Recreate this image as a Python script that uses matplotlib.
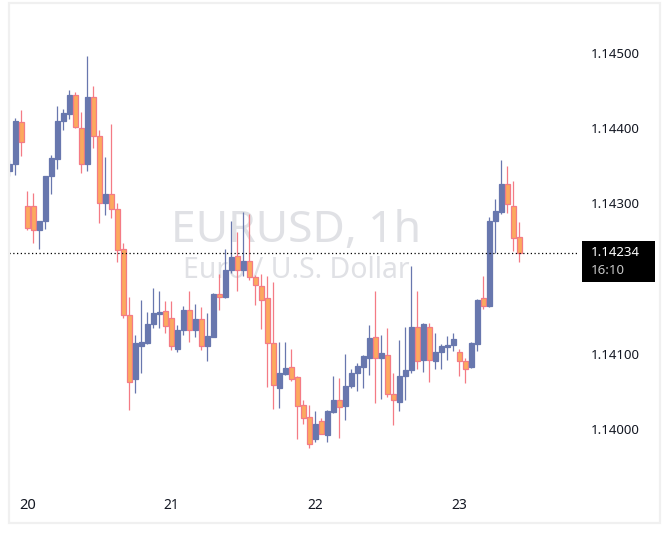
import matplotlib
matplotlib.use("Agg")
import matplotlib.pyplot as plt
import pandas as pd
from matplotlib.patches import Rectangle

plt.rcParams['font.family'] = ['Noto Sans', 'DejaVu Sans']

# hourly EURUSD candles, first one at 19th 21:00
start = "2021-06-19 21:00"
opens = [1.14343, 1.14352, 1.14408, 1.14297, 1.14297, 1.14265, 1.14276, 1.14336, 1.14359, 1.14409,
         1.14419, 1.14444, 1.14400, 1.14352, 1.14441, 1.14389, 1.14300, 1.14313, 1.14293, 1.14239,
         1.14151, 1.14066, 1.14111, 1.14114, 1.14139, 1.14153, 1.14157, 1.14148, 1.14107, 1.14131,
         1.14158, 1.14132, 1.14146, 1.14111, 1.14123, 1.14180, 1.14175, 1.14211, 1.14230, 1.14211,
         1.14223, 1.14202, 1.14190, 1.14174, 1.14114, 1.14055, 1.14073, 1.14082, 1.14069, 1.14032,
         1.14016, 1.13987, 1.14010, 1.13992, 1.14022, 1.14039, 1.14030, 1.14057, 1.14075, 1.14083,
         1.14095, 1.14122, 1.14095, 1.14099, 1.14047, 1.14036, 1.14071, 1.14078, 1.14136, 1.14092,
         1.14136, 1.14091, 1.14103, 1.14109, 1.14112, 1.14103, 1.14090, 1.14082, 1.14113, 1.14174,
         1.14163, 1.14276, 1.14289, 1.14326, 1.14297, 1.14255]
highs = [1.14358, 1.14414, 1.14424, 1.14316, 1.14314, 1.14277, 1.14337, 1.14364, 1.14430, 1.14426,
         1.14451, 1.14448, 1.14422, 1.14496, 1.14456, 1.14398, 1.14362, 1.14406, 1.14301, 1.14248,
         1.14176, 1.14125, 1.14172, 1.14155, 1.14188, 1.14183, 1.14170, 1.14170, 1.14138, 1.14163,
         1.14184, 1.14166, 1.14162, 1.14154, 1.14181, 1.14206, 1.14239, 1.14277, 1.14262, 1.14288,
         1.14286, 1.14205, 1.14206, 1.14203, 1.14196, 1.14116, 1.14116, 1.14106, 1.14070, 1.14039,
         1.14032, 1.14024, 1.14015, 1.14025, 1.14071, 1.14068, 1.14100, 1.14080, 1.14088, 1.14098,
         1.14138, 1.14184, 1.14125, 1.14134, 1.14075, 1.14118, 1.14136, 1.14217, 1.14184, 1.14141,
         1.14141, 1.14127, 1.14113, 1.14124, 1.14128, 1.14106, 1.14095, 1.14116, 1.14173, 1.14203,
         1.14282, 1.14306, 1.14358, 1.14350, 1.14330, 1.14275]
lows = [1.14336, 1.14338, 1.14363, 1.14265, 1.14248, 1.14239, 1.14266, 1.14313, 1.14346, 1.14397,
        1.14412, 1.14400, 1.14341, 1.14343, 1.14374, 1.14274, 1.14285, 1.14281, 1.14222, 1.14147,
        1.14025, 1.14048, 1.14075, 1.14113, 1.14134, 1.14134, 1.14128, 1.14105, 1.14103, 1.14125,
        1.14116, 1.14123, 1.14105, 1.14091, 1.14122, 1.14158, 1.14174, 1.14207, 1.14183, 1.14203,
        1.14198, 1.14165, 1.14133, 1.14056, 1.14027, 1.14028, 1.14072, 1.14064, 1.13987, 1.14006,
        1.13975, 1.13983, 1.13993, 1.13983, 1.14021, 1.13988, 1.14012, 1.14055, 1.14050, 1.14055,
        1.14072, 1.14035, 1.14040, 1.14043, 1.14005, 1.14024, 1.14039, 1.14075, 1.14080, 1.14076,
        1.14063, 1.14080, 1.14080, 1.14092, 1.14104, 1.14070, 1.14061, 1.14081, 1.14104, 1.14160,
        1.14162, 1.14234, 1.14286, 1.14287, 1.14237, 1.14222]
closes = [1.14353, 1.14410, 1.14381, 1.14267, 1.14264, 1.14276, 1.14336, 1.14361, 1.14410, 1.14420,
          1.14444, 1.14401, 1.14352, 1.14441, 1.14389, 1.14300, 1.14313, 1.14293, 1.14238, 1.14151,
          1.14063, 1.14114, 1.14116, 1.14140, 1.14154, 1.14156, 1.14137, 1.14110, 1.14132, 1.14158,
          1.14131, 1.14146, 1.14111, 1.14124, 1.14180, 1.14176, 1.14211, 1.14229, 1.14211, 1.14223,
          1.14202, 1.14191, 1.14172, 1.14114, 1.14058, 1.14074, 1.14081, 1.14067, 1.14030, 1.14015,
          1.13980, 1.14007, 1.13994, 1.14024, 1.14039, 1.14029, 1.14057, 1.14074, 1.14084, 1.14097,
          1.14121, 1.14094, 1.14101, 1.14047, 1.14039, 1.14070, 1.14078, 1.14136, 1.14091, 1.14139,
          1.14092, 1.14102, 1.14110, 1.14112, 1.14120, 1.14090, 1.14080, 1.14114, 1.14172, 1.14163,
          1.14277, 1.14290, 1.14326, 1.14299, 1.14254, 1.14234]
price_ticks = [1.140, 1.141, 1.143, 1.144, 1.145]
last_price = 1.14234
countdown = "16:10"
title = "EURUSD, 1h"
subtitle = "Euro / U.S. Dollar"

UP = "#6877ae"
DOWN_FILL = "#fca95e"
DOWN_EDGE = "#f47b85"

W, H = 670, 539
fig = plt.figure(figsize=(W / 100, H / 100), dpi=100)
fig.patch.set_facecolor("white")


def fx(px):
    return px / W


def fy(py):
    return (H - py) / H


# outer light frame
fig.patches.append(Rectangle((fx(9), fy(523)), fx(660) - fx(9), fy(3) - fy(523),
                             transform=fig.transFigure, fill=False,
                             edgecolor="#f0f0f0", linewidth=1.6))

ax = fig.add_axes([fx(9), fy(485), fx(578) - fx(9), fy(3) - fy(485)])
ax.set_facecolor("none")
for s in ax.spines.values():
    s.set_visible(False)

times = pd.date_range(start, periods=len(opens), freq="h")
idx = list(range(len(opens)))

# watermark
ax.text(fx(296), fy(241.5), title, transform=fig.transFigure, ha="center", va="baseline",
        fontsize=32, color="#e0e1e5", zorder=0)
ax.text(fx(296.5), fy(278.5), subtitle, transform=fig.transFigure, ha="center", va="baseline",
        fontsize=20.5, color="#e0e1e5", zorder=0)

for i in idx:
    o, h, l, c = opens[i], highs[i], lows[i], closes[i]
    up = c >= o
    wick = UP if up else DOWN_EDGE
    ax.vlines(i, l, h, color=wick, linewidth=0.9, zorder=2)
    ax.bar(i, abs(c - o), bottom=min(o, c), width=0.68,
           color=UP if up else DOWN_FILL, edgecolor=UP if up else DOWN_EDGE,
           linewidth=0.9, zorder=3)

ax.axhline(last_price, color="black", linestyle=(0, (1, 2)), linewidth=0.9, zorder=4)

ax.set_xlim(-0.08, 94.75)
ax.set_ylim(1.14 - 56 / 75200, 1.14 + 426 / 75200)

day_pos = [i for i, t in zip(idx, times) if t.hour == 0]
day_lab = [str(times[i].day) for i in day_pos]
ax.set_xticks(day_pos)
ax.set_xticklabels(day_lab)
ax.tick_params(axis="x", length=0, pad=9.5, labelsize=10, labelcolor="#131722")
first = ax.xaxis.get_major_ticks()[0].label1
first.set_fontweight("bold")
first.set_fontsize(10.5)

ax.yaxis.tick_right()
ax.set_yticks(price_ticks)
ax.set_yticklabels([f"{p:.5f}" for p in price_ticks])
ax.tick_params(axis="y", length=0, pad=9.5, labelsize=9.5, labelcolor="#131722")

# last price label
fig.patches.append(Rectangle((fx(582), fy(282)), fx(655) - fx(582), fy(241) - fy(282),
                             transform=fig.transFigure, facecolor="black", edgecolor="none"))
fig.text(fx(591), fy(253), f"{last_price:.5f}", color="white", fontsize=9.5,
         ha="left", va="center")
fig.text(fx(591), fy(271), countdown, color="#c8c8c8", fontsize=9.5, ha="left", va="center")

fig.savefig("out.png", dpi=100)
